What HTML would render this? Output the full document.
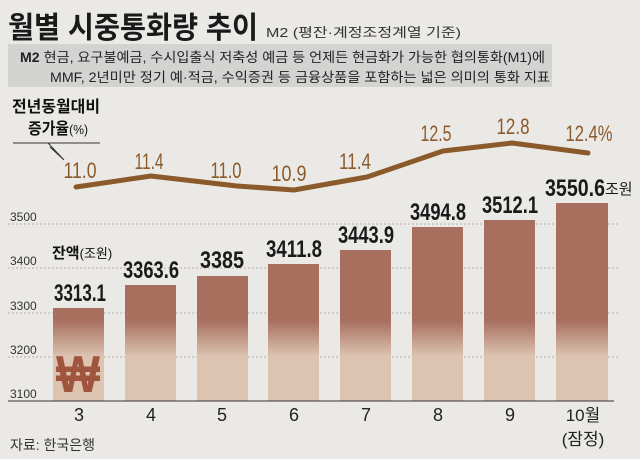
<!DOCTYPE html>
<html><head><meta charset="utf-8"><style>
html,body{margin:0;padding:0;background:#ebe9e6;}
svg{display:block;}
text{font-family:"Liberation Sans Narrow","Liberation Sans","Noto Sans CJK KR",sans-serif;}
.k{font-family:"Liberation Sans","Noto Sans CJK KR",sans-serif;}
</style></head><body>
<svg width="640" height="459" viewBox="0 0 640 459" xmlns="http://www.w3.org/2000/svg">
<defs>
<linearGradient id="g" gradientUnits="userSpaceOnUse" x1="0" y1="200" x2="0" y2="401">
<stop offset="0" stop-color="#a86f5f"/>
<stop offset="0.6" stop-color="#a86f5f"/>
<stop offset="0.78" stop-color="#dcc4b1"/>
<stop offset="1" stop-color="#dcc4b1"/>
</linearGradient>
</defs>
<rect width="640" height="459" fill="#ebe9e6"/>
<text x="8" y="38" class="k" font-size="30" font-weight="bold" fill="#1a1a1a" textLength="250" lengthAdjust="spacingAndGlyphs">월별 시중통화량 추이</text>
<text x="266" y="37" class="k" font-size="13" fill="#333" textLength="195" lengthAdjust="spacingAndGlyphs">M2 (평잔·계정조정계열 기준)</text>
<rect x="8" y="44" width="544" height="43" fill="#d3d3d2"/>
<text x="20" y="62" class="k" font-size="13.5" fill="#222" textLength="525" lengthAdjust="spacingAndGlyphs"><tspan font-weight="bold">M2</tspan> 현금, 요구불예금, 수시입출식 저축성 예금 등 언제든 현금화가 가능한 협의통화(M1)에</text>
<text x="50" y="82" class="k" font-size="13.5" fill="#222" textLength="500" lengthAdjust="spacingAndGlyphs">MMF, 2년미만 정기 예·적금, 수익증권 등 금융상품을 포함하는 넓은 의미의 통화 지표</text>
<text x="12" y="112" class="k" font-size="16" font-weight="bold" fill="#111" textLength="88" lengthAdjust="spacingAndGlyphs">전년동월대비</text>
<text x="28" y="134" class="k" font-size="16" font-weight="bold" fill="#111" textLength="60" lengthAdjust="spacingAndGlyphs">증가율<tspan font-weight="normal" font-size="13">(%)</tspan></text>
<polyline points="13,143 100,143" stroke="#333" stroke-width="1" fill="none"/>
<polyline points="48,143 64,160 50,147" stroke="#333" stroke-width="1" fill="none"/>
<g stroke="#b5b0aa" stroke-width="1" stroke-dasharray="2,2">
<line x1="8" y1="224" x2="618" y2="224"/><line x1="8" y1="268" x2="618" y2="268"/><line x1="8" y1="313" x2="618" y2="313"/><line x1="8" y1="357" x2="618" y2="357"/>
</g>
<g font-size="12" fill="#333" class="k">
<text x="10" y="221">3500</text><text x="10" y="265">3400</text><text x="10" y="310">3300</text><text x="10" y="354">3200</text><text x="10" y="398">3100</text>
</g>
<g fill="url(#g)">
<rect x="53" y="308" width="51" height="93"/>
<rect x="125" y="285" width="51" height="116"/>
<rect x="197" y="276" width="51" height="125"/>
<rect x="268" y="264" width="51" height="137"/>
<rect x="340" y="250" width="51" height="151"/>
<rect x="412" y="227" width="51" height="174"/>
<rect x="484" y="220" width="51" height="181"/>
<rect x="556" y="203" width="52" height="198"/>
</g>
<line x1="8" y1="401" x2="614" y2="401" stroke="#333" stroke-width="1"/>
<text x="56" y="392" class="k" font-size="52" font-weight="bold" fill="#a0553f" textLength="44" lengthAdjust="spacingAndGlyphs">₩</text>
<text x="52" y="258" class="k" font-size="15" font-weight="bold" fill="#111">잔액<tspan font-weight="normal" font-size="13">(조원)</tspan></text>
<g font-size="24" font-weight="bold" fill="#1a1a1a" text-anchor="middle">
<text x="80" y="301" textLength="52" lengthAdjust="spacingAndGlyphs">3313.1</text>
<text x="151" y="278" textLength="56" lengthAdjust="spacingAndGlyphs">3363.6</text>
<text x="222" y="268" textLength="44" lengthAdjust="spacingAndGlyphs">3385</text>
<text x="294" y="257" textLength="56" lengthAdjust="spacingAndGlyphs">3411.8</text>
<text x="366" y="243" textLength="56" lengthAdjust="spacingAndGlyphs">3443.9</text>
<text x="438" y="220" textLength="56" lengthAdjust="spacingAndGlyphs">3494.8</text>
<text x="510" y="213" textLength="56" lengthAdjust="spacingAndGlyphs">3512.1</text>
</g>
<text x="545" y="196" font-size="24" font-weight="bold" fill="#1a1a1a" textLength="60" lengthAdjust="spacingAndGlyphs">3550.6</text>
<text x="605" y="194" class="k" font-size="15" fill="#1a1a1a">조원</text>
<polyline points="76,187 151,176 237,186 294,190 367,177 443,151 512,143 588,153" fill="none" stroke="#8b5a2b" stroke-width="5" stroke-linejoin="round" stroke-linecap="round"/>
<g font-size="22" fill="#8b5a2b" text-anchor="middle">
<text x="80" y="178" textLength="33" lengthAdjust="spacingAndGlyphs">11.0</text>
<text x="149" y="169" textLength="29" lengthAdjust="spacingAndGlyphs">11.4</text>
<text x="226" y="178" textLength="31" lengthAdjust="spacingAndGlyphs">11.0</text>
<text x="289" y="181" textLength="35" lengthAdjust="spacingAndGlyphs">10.9</text>
<text x="355" y="169" textLength="32" lengthAdjust="spacingAndGlyphs">11.4</text>
<text x="436" y="141" textLength="31" lengthAdjust="spacingAndGlyphs">12.5</text>
<text x="513" y="134" textLength="33" lengthAdjust="spacingAndGlyphs">12.8</text>
<text x="589" y="141" textLength="47" lengthAdjust="spacingAndGlyphs">12.4%</text>
</g>
<g font-size="18" fill="#222" text-anchor="middle" class="k">
<text x="79" y="421">3</text><text x="151" y="421">4</text><text x="222" y="421">5</text><text x="294" y="421">6</text><text x="366" y="421">7</text><text x="438" y="421">8</text><text x="510" y="421">9</text>
<text x="583" y="421" font-size="17">10월</text><text x="583" y="445" font-size="17">(잠정)</text>
</g>
<text x="10" y="450" class="k" font-size="14" fill="#333">자료: 한국은행</text>
</svg>
</body></html>
